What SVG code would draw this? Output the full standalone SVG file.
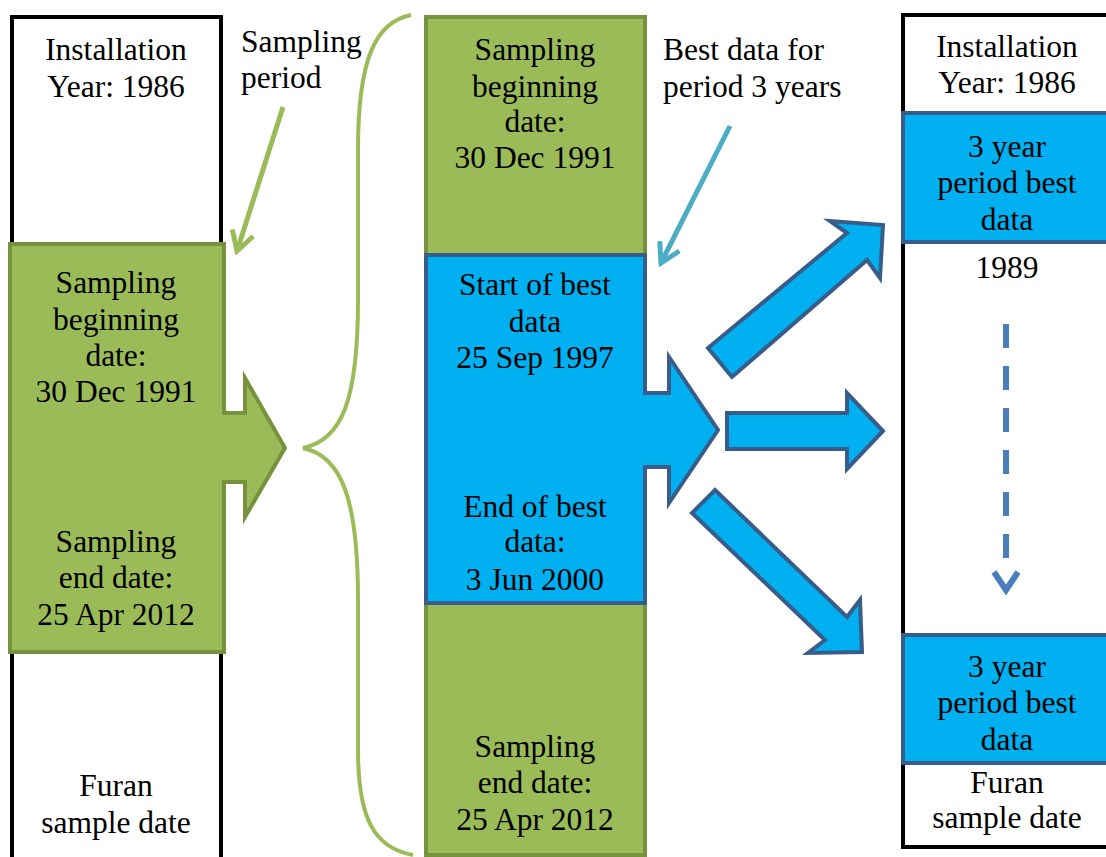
<svg xmlns="http://www.w3.org/2000/svg" width="1106" height="857" viewBox="0 0 1106 857">
<style>
text{font-family:"Liberation Serif","Times New Roman",serif;font-size:31.5px;fill:#000}
.c{text-anchor:middle}
.col{fill:#fff;stroke:#000;stroke-width:4}
.green{fill:#9BBB59;stroke:#76923C;stroke-width:4;stroke-linejoin:miter}
.blue{fill:#00B0F0;stroke:#385D8A;stroke-width:4;stroke-linejoin:miter}
.gline{fill:none;stroke:#9BBB59;stroke-width:5}
.bline{fill:none;stroke:#4BACC6;stroke-width:5}
.brace{fill:none;stroke:#9BBB59;stroke-width:4}
.dash{fill:none;stroke:#4A7EBB;stroke-width:6;stroke-dasharray:24 18}
</style>
<defs>
<marker id="mg" markerUnits="userSpaceOnUse" viewBox="-22 -14 26 28" markerWidth="26" markerHeight="28" refX="0" refY="0" orient="auto">
<path d="M-19,-11 L0,0 L-19,11" fill="none" stroke="#9BBB59" stroke-width="5"/>
</marker>
<marker id="mb" markerUnits="userSpaceOnUse" viewBox="-22 -14 26 28" markerWidth="26" markerHeight="28" refX="0" refY="0" orient="auto">
<path d="M-19,-11 L0,0 L-19,11" fill="none" stroke="#4BACC6" stroke-width="5"/>
</marker>
</defs>

<g id="left-column">
<rect class="col" x="12" y="17" width="209" height="870"/>
<text class="c" x="116" y="60">Installation</text>
<text class="c" x="116" y="97">Year: 1986</text>
<text class="c" x="116" y="796">Furan</text>
<text class="c" x="116" y="833">sample date</text>
</g>

<g id="left-sampling">
<path class="green" d="M10,244 H224 V413 H245 V378 L285,448 L245,517 V482 H224 V652 H10 Z"/>
<text class="c" x="116" y="293">Sampling</text>
<text class="c" x="116" y="330">beginning</text>
<text class="c" x="116" y="366">date:</text>
<text class="c" x="116" y="402">30 Dec 1991</text>
<text class="c" x="116" y="552">Sampling</text>
<text class="c" x="116" y="588">end date:</text>
<text class="c" x="116" y="625">25 Apr 2012</text>
</g>

<g id="label-sampling-period">
<text x="241" y="52">Sampling</text>
<text x="241" y="88">period</text>
</g>

<g id="middle-column">
<rect class="green" x="426" y="17" width="219" height="838"/>
<text class="c" x="535" y="60">Sampling</text>
<text class="c" x="535" y="97">beginning</text>
<text class="c" x="535" y="132">date:</text>
<text class="c" x="535" y="168">30 Dec 1991</text>
<text class="c" x="535" y="757">Sampling</text>
<text class="c" x="535" y="793">end date:</text>
<text class="c" x="535" y="830">25 Apr 2012</text>
</g>

<g id="best-data">
<path class="blue" d="M426,255 H645 V393 H669 V357 L718,430 L669,503 V467 H645 V603 H426 Z"/>
<text class="c" x="535" y="295">Start of best</text>
<text class="c" x="535" y="332">data</text>
<text class="c" x="535" y="368">25 Sep 1997</text>
<text class="c" x="535" y="517">End of best</text>
<text class="c" x="535" y="552">data:</text>
<text class="c" x="535" y="590">3 Jun 2000</text>
</g>

<g id="label-best-data">
<text x="663" y="60">Best data for</text>
<text x="663" y="97">period 3 years</text>
</g>

<g id="right-column">
<rect class="col" x="903" y="15" width="215" height="832"/>
<text class="c" x="1007" y="57">Installation</text>
<text class="c" x="1007" y="93">Year: 1986</text>
<text class="c" x="1007" y="278">1989</text>
<text class="c" x="1007" y="793">Furan</text>
<text class="c" x="1007" y="828">sample date</text>
</g>

<g id="best-period-top">
<rect class="blue" x="903" y="113" width="215" height="129"/>
<text class="c" x="1007" y="157">3 year</text>
<text class="c" x="1007" y="193">period best</text>
<text class="c" x="1007" y="230">data</text>
</g>

<g id="best-period-bottom">
<rect class="blue" x="903" y="635" width="215" height="128"/>
<text class="c" x="1007" y="677">3 year</text>
<text class="c" x="1007" y="713">period best</text>
<text class="c" x="1007" y="750">data</text>
</g>

<g id="connectors">
<path class="brace" d="M411,15 C375,22 358,60 358,150 L358,300 C358,400 342,440 303,448 C342,456 358,500 358,600 L358,750 C358,820 375,848 413,855"/>
<line class="gline" x1="283" y1="107" x2="237" y2="251" marker-end="url(#mg)"/>
<line class="bline" x1="730" y1="126" x2="661" y2="263" marker-end="url(#mb)"/>
<path class="blue" d="M708,348 L847,233 L830,221 L883,225 L880,278 L867,260 L732,377 Z"/>
<path class="blue" d="M727,413 H847 V393 L883,431 L847,469 V449 H727 Z"/>
<path class="blue" d="M715,490 L847,617 L860,600 L862,652 L808,653 L825,640 L692,513 Z"/>
<line class="dash" x1="1006" y1="324" x2="1006" y2="560"/>
<path d="M994,572 L1006,590 L1018,572" fill="none" stroke="#4A7EBB" stroke-width="6"/>
</g>
</svg>
